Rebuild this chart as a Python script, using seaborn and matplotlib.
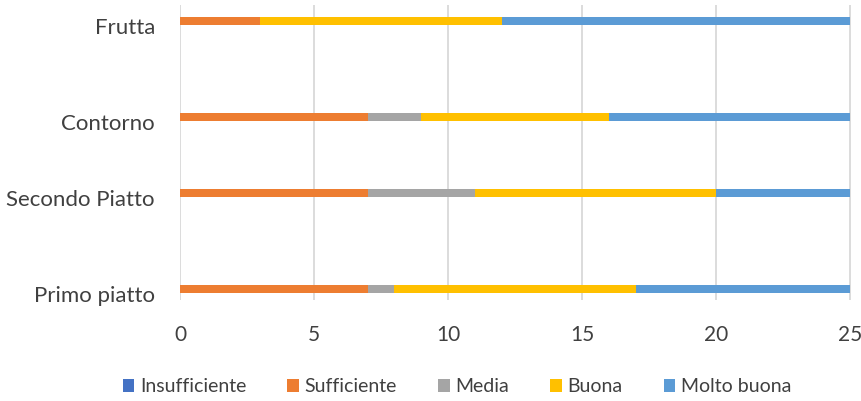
import numpy as np
import pandas as pd
import seaborn as sns
import matplotlib.pyplot as plt
import matplotlib.transforms as mtransforms
from matplotlib.patches import Patch

categories = ["Primo piatto", "Secondo Piatto", "Contorno", "Frutta"]
series = ["Insufficiente", "Sufficiente", "Media", "Buona", "Molto buona"]
insufficiente = [0, 0, 0, 0]
sufficiente = [7, 7, 7, 3]
media = [1, 4, 2, 0]
buona = [9, 9, 7, 9]
molto_buona = [8, 5, 9, 13]
xticks = [0, 5, 10, 15, 20, 25]

colors = ["#4472C4", "#ED7D31", "#A5A5A5", "#FFC000", "#5B9BD5"]
# layout (positions of bars in axes fraction, mimicking 3D perspective spacing)
y_pos = [0.037, 0.363, 0.620, 0.946]
bar_h = 0.028

sns.set_theme(style="white")
plt.rcParams["font.family"] = ["Lato", "DejaVu Sans"]

fig = plt.figure(figsize=(8.62, 4.01), dpi=100)
ax = fig.add_axes([180 / 862, (401 - 300) / 401, 671 / 862, 295 / 401])

values = [insufficiente, sufficiente, media, buona, molto_buona]
cum = np.cumsum(np.array(values), axis=0)
min_gap = np.min(np.diff(sorted(y_pos)))
w = bar_h / min_gap

for i in range(len(series) - 1, -1, -1):
    if np.all(np.array(values[i]) == 0) and i == 0:
        continue
    df = pd.DataFrame({"val": cum[i], "pos": y_pos})
    sns.barplot(data=df, x="val", y="pos", orient="y", native_scale=True,
                color=colors[i], saturation=1, width=w, errorbar=None,
                linewidth=0, ax=ax)

ax.set_xlim(0, 25.03)
ax.set_ylim(0, 1)
ax.set_xticks(xticks)
ax.set_xticklabels([str(t) for t in xticks])
ax.set_yticks(y_pos)
ax.set_yticklabels(categories)
ax.set_xlabel("")
ax.set_ylabel("")
ax.grid(axis="x", color="#d9d9d9", lw=1.3)
ax.grid(axis="y", visible=False)
ax.set_axisbelow(True)
for s in ax.spines.values():
    s.set_visible(False)
ax.tick_params(axis="x", length=0, pad=18, labelsize=15, labelcolor="#404040")
ax.tick_params(axis="y", length=0, pad=18, labelsize=16, labelcolor="#404040")
offset = mtransforms.ScaledTranslation(0, -5 / 100, fig.dpi_scale_trans)
for lab in ax.get_yticklabels():
    lab.set_transform(lab.get_transform() + offset)

handles = [Patch(facecolor=c, edgecolor="none") for c in colors]
fig.legend(handles, series, loc="center", bbox_to_anchor=(457 / 862, 1 - 387 / 401),
           ncol=5, frameon=False, fontsize=14, handlelength=0.6, handleheight=0.6,
           handletextpad=0.3, columnspacing=2.1, labelcolor="#404040")

fig.savefig("out.png", dpi=100)
